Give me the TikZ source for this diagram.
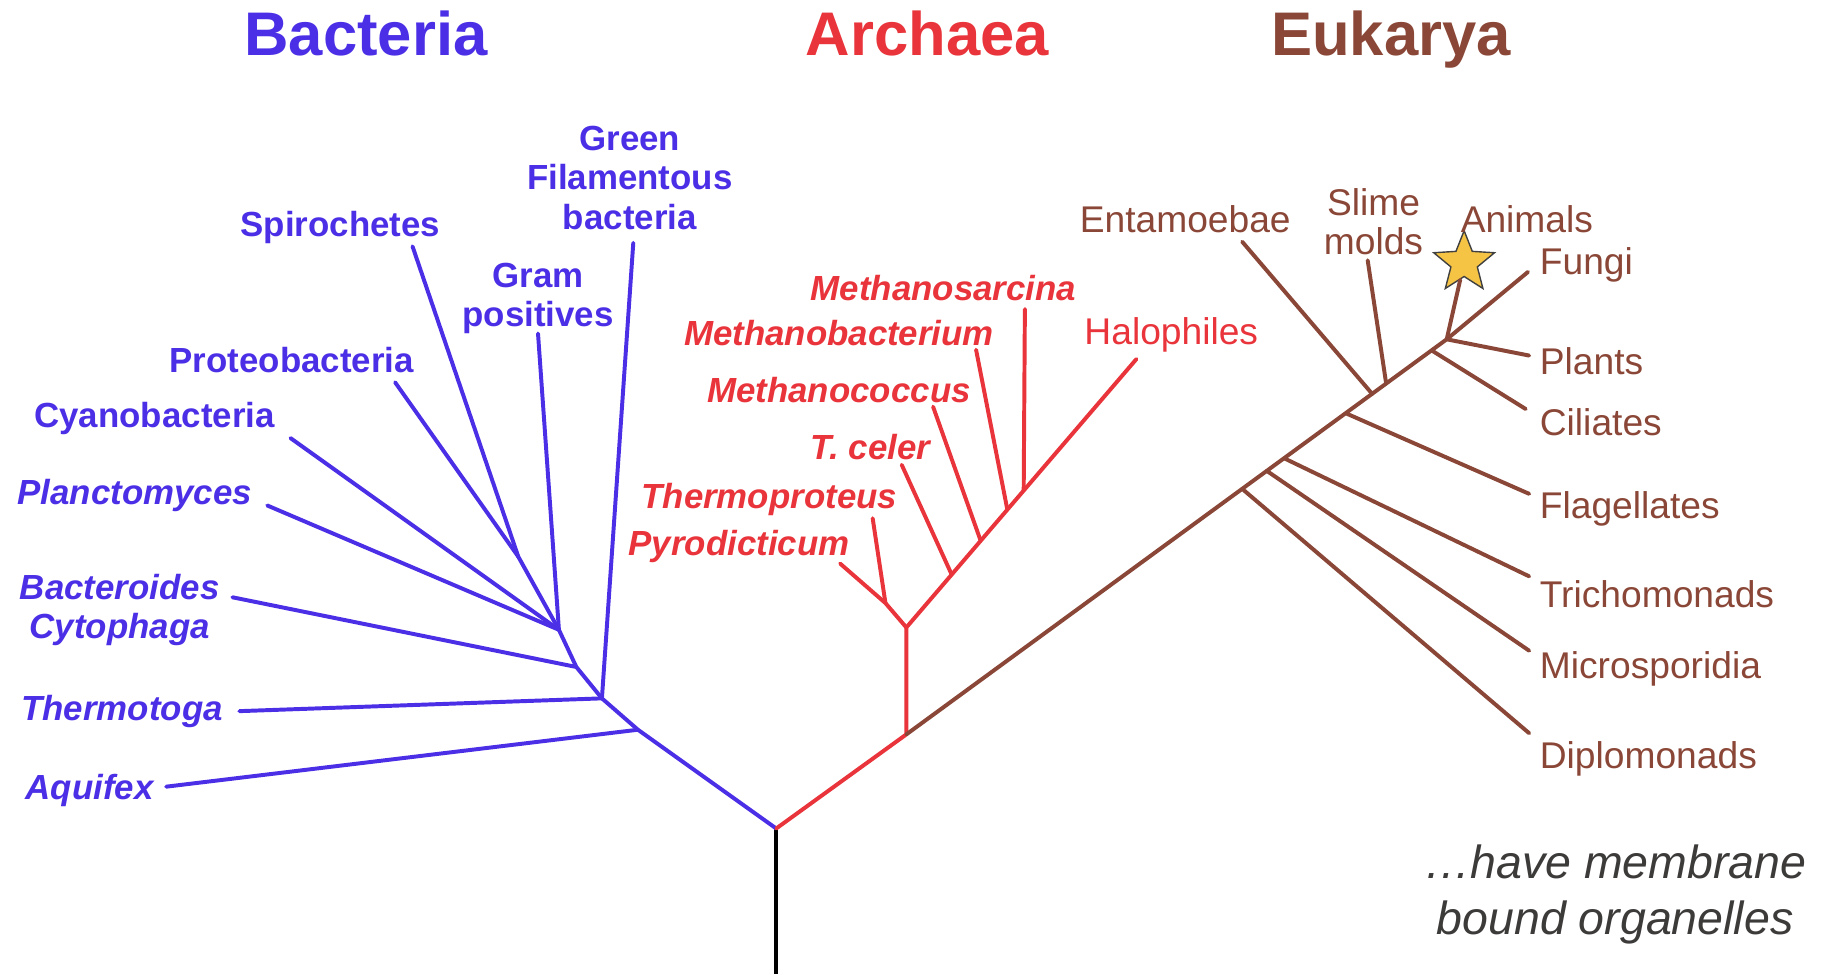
\documentclass[tikz,border=0pt]{standalone}
\usepackage{fontspec}
\setmainfont{Liberation Sans}
\usetikzlibrary{calc,shapes.geometric}
\definecolor{bactblue}{HTML}{4A2FE6}
\definecolor{archred}{HTML}{E8343A}
\definecolor{eukbrown}{HTML}{8A4636}
\definecolor{notegray}{HTML}{3D3A3A}
\definecolor{staryellow}{HTML}{F6C445}
\begin{document}
\begin{tikzpicture}[
  x=1pt, y=-1pt,
  branch/.style={line width=3.4pt, line cap=round, line join=round},
  bact/.style={branch, draw=bactblue},
  arch/.style={branch, draw=archred},
  euk/.style={branch, draw=eukbrown},
  domaintitle/.style={font=\fontsize{53}{60}\selectfont\bfseries, inner sep=0pt, anchor=base},
  bactlab/.style={font=\fontsize{30}{34}\selectfont\bfseries, text=bactblue, align=center, inner sep=0pt},
  bactit/.style={font=\fontsize{30}{34}\selectfont\bfseries\itshape, text=bactblue, align=center, inner sep=0pt},
  archit/.style={font=\fontsize{30}{34}\selectfont\bfseries\itshape, text=archred, inner sep=0pt},
  eulab/.style={font=\fontsize{32}{34}\selectfont, text=eukbrown, align=center, inner sep=0pt}
]
\useasboundingbox (0,0) rectangle (1568,838);

% domain titles
\node[domaintitle, text=bactblue] (bacteria) at (315,48) {Bacteria};
\node[domaintitle, text=archred] (archaea) at (798,48) {Archaea};
\node[domaintitle, text=eukbrown] (eukarya) at (1197,48) {Eukarya};

% trunk
\coordinate (root) at (668,713);
\coordinate (base) at (668,840);
\draw[branch, draw=black] (root) -- (base);

% bacteria
\coordinate (ba1) at (549,628);
\coordinate (ba2) at (518,601);
\coordinate (ba3) at (496,574);
\coordinate (ba4) at (481,542);
\coordinate (ba5) at (446,479);
\coordinate (aquifexEnd) at (143,677);
\coordinate (thermotogaEnd) at (206,612);
\coordinate (bacteroidesEnd) at (200,514);
\coordinate (planctoEnd) at (230,435);
\coordinate (cyanoEnd) at (250,377);
\coordinate (proteoEnd) at (340,329);
\coordinate (spiroEnd) at (355,212);
\coordinate (gramEnd) at (463,287);
\coordinate (greenEnd) at (545,209);
\draw[bact] (root) -- (ba1) -- (ba2) -- (ba3) -- (ba4) -- (ba5);
\draw[bact] (ba1) -- (aquifexEnd);
\draw[bact] (ba2) -- (thermotogaEnd);
\draw[bact] (ba2) -- (greenEnd);
\draw[bact] (ba3) -- (bacteroidesEnd);
\draw[bact] (ba4) -- (planctoEnd);
\draw[bact] (ba4) -- (cyanoEnd);
\draw[bact] (ba4) -- (gramEnd);
\draw[bact] (ba5) -- (proteoEnd);
\draw[bact] (ba5) -- (spiroEnd);

\node[bactlab] (spiro) at (293,196) {Spirochetes};
\node[bactlab] (green) at (542,153) {Green\\Filamentous\\bacteria};
\node[bactlab] (gram) at (463,257) {Gram\\positives};
\node[bactlab] (proteo) at (251,310) {Proteobacteria};
\node[bactlab] (cyano) at (133,360) {Cyanobacteria};
\node[bactit] (plancto) at (116,426) {Planctomyces};
\node[bactit] (bacteroides) at (103,525) {Bacteroides\\Cytophaga};
\node[bactit] (thermotoga) at (105,612) {Thermotoga};
\node[bactit] (aquifex) at (77,680) {Aquifex};

% archaea
\coordinate (ar1) at (780,632);
\coordinate (ar2) at (780,540);
\coordinate (ar3) at (762,519);
\coordinate (haloEnd) at (978,309);
\coordinate (ar4) at ($(ar2)!0.197!(haloEnd)$);
\coordinate (ar5) at ($(ar2)!0.323!(haloEnd)$);
\coordinate (ar6) at ($(ar2)!0.439!(haloEnd)$);
\coordinate (ar7) at ($(ar2)!0.51!(haloEnd)$);
\coordinate (pyroEnd) at (723,485);
\coordinate (thermoprotEnd) at (751,446);
\coordinate (celerEnd) at (776,400);
\coordinate (coccusEnd) at (803,350);
\coordinate (methbactEnd) at (840,301);
\coordinate (sarcinaEnd) at (882,266);
\draw[arch] (root) -- (ar1) -- (ar2) -- (haloEnd);
\draw[arch] (ar2) -- (ar3) -- (pyroEnd);
\draw[arch] (ar3) -- (thermoprotEnd);
\draw[arch] (ar4) -- (celerEnd);
\draw[arch] (ar5) -- (coccusEnd);
\draw[arch] (ar6) -- (methbactEnd);
\draw[arch] (ar7) -- (sarcinaEnd);

\node[archit] (sarcina) at (812,248) {Methanosarcina};
\node[archit] (methbact) at (722,287) {Methanobacterium};
\node[archit] (coccus) at (722,336) {Methanococcus};
\node[archit] (celer) at (749,385) {T.\ celer};
\node[archit] (thermoprot) at (662,430) {Thermoproteus};
\node[archit] (pyro) at (636,470) {Pyrodicticum};
\node[eulab, text=archred] (halo) at (1008,288) {Halophiles};

% eukarya
\coordinate (eutop) at (1245,292);
\coordinate (eu1) at ($(ar1)!0.6215!(eutop)$);
\coordinate (eu2) at ($(ar1)!0.667!(eutop)$);
\coordinate (eu3) at ($(ar1)!0.699!(eutop)$);
\coordinate (eu4) at ($(ar1)!0.813!(eutop)$);
\coordinate (eu5) at ($(ar1)!0.862!(eutop)$);
\coordinate (eu6) at ($(ar1)!0.888!(eutop)$);
\coordinate (eu7) at ($(ar1)!0.972!(eutop)$);
\coordinate (diploEnd) at (1316,631);
\coordinate (microEnd) at (1316,560);
\coordinate (trichoEnd) at (1316,496);
\coordinate (flagEnd) at (1316,425);
\coordinate (entEnd) at (1069,208);
\coordinate (slimeEnd) at (1177,224);
\coordinate (ciliatesEnd) at (1313,352);
\coordinate (plantsEnd) at (1316,306);
\coordinate (fungiEnd) at (1315,234);
\draw[euk] (ar1) -- (eutop);
\draw[euk] (eu1) -- (diploEnd);
\draw[euk] (eu2) -- (microEnd);
\draw[euk] (eu3) -- (trichoEnd);
\draw[euk] (eu4) -- (flagEnd);
\draw[euk] (eu5) -- (entEnd);
\draw[euk] (eu6) -- (slimeEnd);
\draw[euk] (eu7) -- (ciliatesEnd);
\draw[euk] (eutop) -- (plantsEnd);
\draw[euk] (eutop) -- (fungiEnd);
\node[star, star points=5, star point ratio=2.3, minimum size=55pt, inner sep=0pt,
  fill=staryellow, draw=black!75, line width=1.2pt] (star) at (1260,226) {};
\draw[euk] (eutop) -- (star);

\node[eulab] (ent) at (1020,189) {Entamoebae};
\node[eulab] (slime) at (1182,191) {Slime\\molds};
\node[eulab] (animals) at (1314,189) {Animals};
\node[eulab, anchor=west] (fungi) at (1325,228) {Fungi};
\node[eulab, anchor=west] (plants) at (1325,311) {Plants};
\node[eulab, anchor=west] (ciliates) at (1325,363) {Ciliates};
\node[eulab, anchor=west] (flag) at (1325,438) {Flagellates};
\node[eulab, anchor=west] (tricho) at (1325,511) {Trichomonads};
\node[eulab, anchor=west] (micro) at (1325,576) {Microsporidia};
\node[eulab, anchor=west] (diplo) at (1325,653) {Diplomonads};

% note
\node[font=\fontsize{40}{48}\selectfont\itshape, text=notegray, align=center, inner sep=0pt]
  (note) at (1390,770) {…have membrane\\bound organelles};
\end{tikzpicture}
\end{document}
